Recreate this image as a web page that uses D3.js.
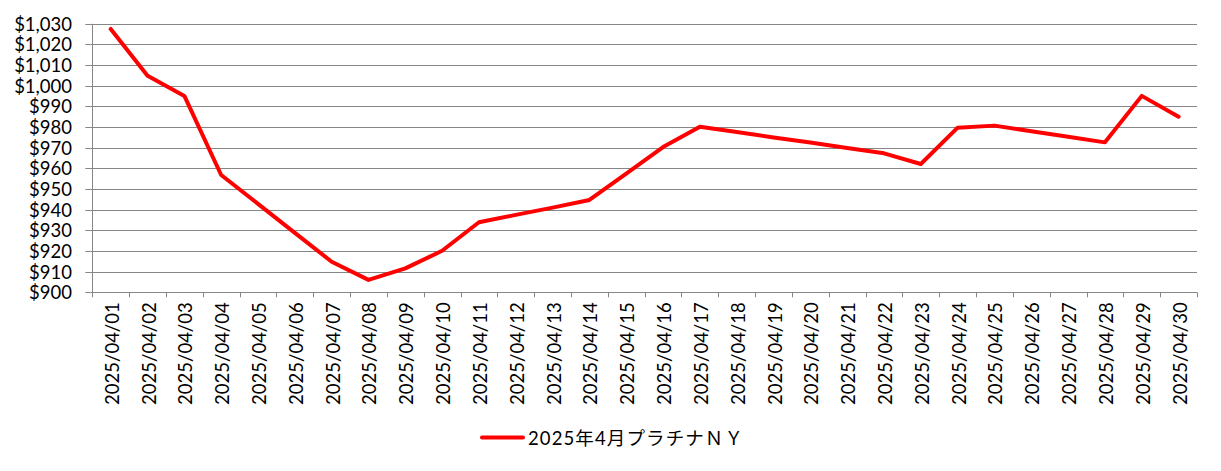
<!DOCTYPE html>
<html>
<head>
<meta charset="utf-8">
<script src="https://cdn.jsdelivr.net/npm/d3@7"></script>
<style>
  html, body { margin: 0; padding: 0; background: #fff; }
  svg { display: block; }
  text { font-family: Lato, "Noto Sans CJK JP", sans-serif; fill: #000; }
</style>
</head>
<body>
<svg id="chart" width="1221" height="471"></svg>
<script>
const categories = [
  "2025/04/01","2025/04/02","2025/04/03","2025/04/04","2025/04/05","2025/04/06",
  "2025/04/07","2025/04/08","2025/04/09","2025/04/10","2025/04/11","2025/04/12",
  "2025/04/13","2025/04/14","2025/04/15","2025/04/16","2025/04/17","2025/04/18",
  "2025/04/19","2025/04/20","2025/04/21","2025/04/22","2025/04/23","2025/04/24",
  "2025/04/25","2025/04/26","2025/04/27","2025/04/28","2025/04/29","2025/04/30"
];
const platinumNY = [
  1027.5, 1004.9, 995.1, 956.8, 942.8, 928.8,
  914.8, 906.0, 911.6, 920.1, 933.9, 937.5,
  941.0, 944.7, 957.5, 970.3, 980.2, 977.6,
  975.0, 972.5, 969.9, 967.3, 962.1, 979.7,
  980.7, 978.0, 975.3, 972.6, 995.1, 985.0
];
const yTicks = [900, 910, 920, 930, 940, 950, 960, 970, 980, 990, 1000, 1010, 1020, 1030];
const seriesName = "2025年4月プラチナＮＹ";

const svg = d3.select("#chart");
const mLeft = 92.3, mRight = 1197, mTop = 23.8, mBottom = 292.3;
const gridColor = "#868686";

const x = d3.scaleBand().domain(categories).range([mLeft, mRight]).padding(0);
const y = d3.scaleLinear().domain([900, 1030]).range([mBottom, mTop]);

// gridlines
svg.append("g").selectAll("line").data(yTicks).join("line")
  .attr("x1", mLeft - 7).attr("x2", mRight)
  .attr("y1", d => Math.round(y(d)) + 0.5).attr("y2", d => Math.round(y(d)) + 0.5)
  .attr("stroke", gridColor).attr("stroke-width", 1);

// y axis line
svg.append("line")
  .attr("x1", Math.round(mLeft) + 0.5).attr("x2", Math.round(mLeft) + 0.5)
  .attr("y1", mTop).attr("y2", mBottom)
  .attr("stroke", gridColor);

// y labels
const fmt = d3.format(",");
svg.append("g").selectAll("text").data(yTicks).join("text")
  .attr("x", 72).attr("y", d => y(d))
  .attr("text-anchor", "end").attr("dominant-baseline", "central")
  .style("font-size", "18.5px")
  .text(d => "$" + fmt(d));

// x ticks at band boundaries
const bounds = categories.map(c => x(c)).concat([mRight]);
svg.append("g").selectAll("line").data(bounds).join("line")
  .attr("x1", d => Math.round(d) + 0.5).attr("x2", d => Math.round(d) + 0.5)
  .attr("y1", mBottom).attr("y2", mBottom + 5)
  .attr("stroke", gridColor);

// x labels
svg.append("g").selectAll("text").data(categories).join("text")
  .attr("transform", d => `translate(${x(d) + x.bandwidth() / 2 + 1},${mBottom + 10}) rotate(-90)`)
  .attr("text-anchor", "end").attr("dominant-baseline", "central")
  .style("font-size", "18.5px")
  .text(d => d);

// line
const line = d3.line()
  .x((d, i) => x(categories[i]) + x.bandwidth() / 2)
  .y(d => y(d));
svg.append("path").datum(platinumNY)
  .attr("d", line)
  .attr("fill", "none").attr("stroke", "#ff0000")
  .attr("stroke-width", 4).attr("stroke-linejoin", "round").attr("stroke-linecap", "round");

// legend
const lg = svg.append("g");
lg.append("line").attr("x1", 482).attr("x2", 523).attr("y1", 437.5).attr("y2", 437.5)
  .attr("stroke", "#ff0000").attr("stroke-width", 4).attr("stroke-linecap", "round");
lg.append("text").attr("x", 528).attr("y", 438)
  .attr("dominant-baseline", "central")
  .attr("textLength", 215).attr("lengthAdjust", "spacing")
  .style("font-size", "18.5px")
  .text(seriesName);
</script>
</body>
</html>
